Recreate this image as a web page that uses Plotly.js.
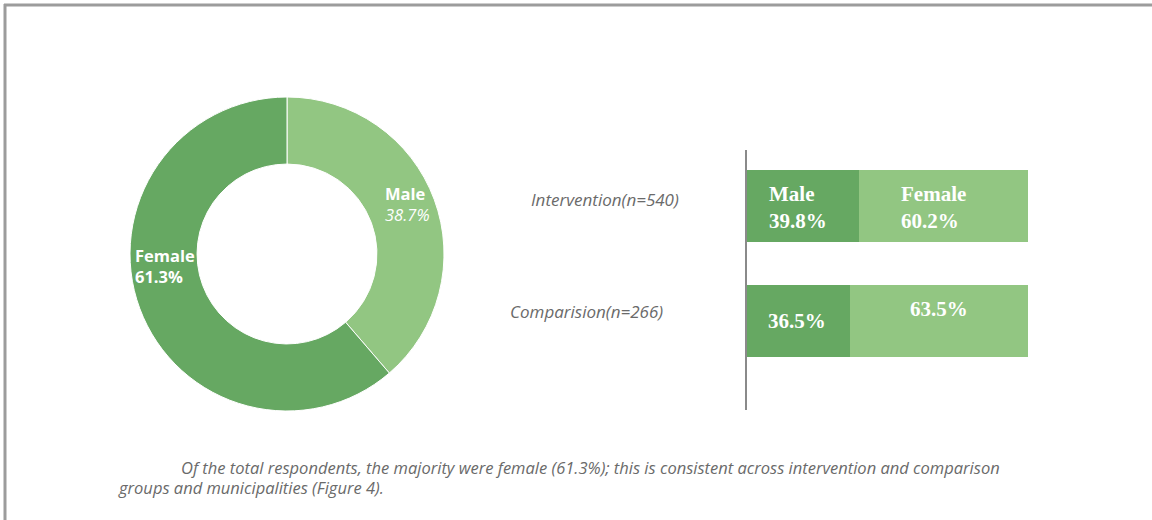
<!DOCTYPE html>
<html>
<head>
<meta charset="utf-8">
<script src="https://cdn.plot.ly/plotly-3.0.1.min.js"></script>
<style>html,body{margin:0;padding:0;background:#fff;}#chart{width:1152px;height:520px;}</style>
</head>
<body>
<div id="chart"></div>
<script>
// ---- data ----
const pieLabels = ["Male", "Female"];
const pieValues = [38.7, 61.3];

const groups = ["Intervention(n=540)", "Comparision(n=266)"];
const maleShare = [39.8, 36.5];
const femaleShare = [60.2, 63.5];

const captionLines = [
  "Of the total respondents, the majority were female (61.3%); this is consistent across intervention and comparison",
  "groups and municipalities (Figure 4)."
];

// ---- styles ----
const DARK = "#66a862";
const LIGHT = "#92c682";
const W = 1152, H = 520;
const px = v => v / W;
const py = v => 1 - v / H;

const traces = [
  {
    type: "pie",
    labels: pieLabels,
    values: pieValues,
    sort: false,
    direction: "clockwise",
    rotation: 0,
    hole: 0.573,
    textinfo: "none",
    hoverinfo: "label+percent",
    marker: { colors: [LIGHT, DARK], line: { color: "#ffffff", width: 1 } },
    domain: { x: [px(130), px(444)], y: [py(411), py(97)] },
    showlegend: false
  },
  {
    type: "bar",
    orientation: "h",
    y: groups,
    x: maleShare,
    name: "Male",
    marker: { color: DARK },
    width: 0.626,
    hoverinfo: "x+y",
    showlegend: false
  },
  {
    type: "bar",
    orientation: "h",
    y: groups,
    x: femaleShare,
    name: "Female",
    marker: { color: LIGHT },
    width: 0.626,
    hoverinfo: "x+y",
    showlegend: false
  }
];

const serif = { family: "Liberation Serif, DejaVu Serif, serif", size: 21, color: "#ffffff", weight: "bold" };
const sans = "Open Sans, Noto Sans, sans-serif";

const annotations = [
  // donut labels
  { xref: "paper", yref: "paper", x: px(383), y: py(204), xanchor: "left", yanchor: "middle", align: "left",
    showarrow: false, text: "<b>" + pieLabels[0] + "</b><br><i>" + pieValues[0].toFixed(1) + "%</i>",
    font: { family: sans, size: 16.5, color: "#ffffff" } },
  { xref: "paper", yref: "paper", x: px(133), y: py(266), xanchor: "left", yanchor: "middle", align: "left",
    showarrow: false, text: "<b>" + pieLabels[1] + "<br>" + pieValues[1].toFixed(1) + "%</b>",
    font: { family: sans, size: 16.5, color: "#ffffff" } },
  // group labels
  { xref: "paper", yref: "y", x: px(681), y: groups[0], xanchor: "right", yanchor: "middle", yshift: 7,
    showarrow: false, text: "<i>" + groups[0] + "</i>", font: { family: sans, size: 17, color: "#6a6a6a" } },
  { xref: "paper", yref: "y", x: px(665), y: groups[1], xanchor: "right", yanchor: "middle", yshift: 10,
    showarrow: false, text: "<i>" + groups[1] + "</i>", font: { family: sans, size: 17, color: "#6a6a6a" } },
  // bar labels
  { xref: "x", yref: "y", x: 0, y: groups[0], xanchor: "left", yanchor: "middle", xshift: 20, yshift: -1, align: "left",
    showarrow: false, text: "<b>Male<br>" + maleShare[0].toFixed(1) + "%</b>", font: serif },
  { xref: "x", yref: "y", x: maleShare[0], y: groups[0], xanchor: "left", yanchor: "middle", xshift: 40, yshift: -1, align: "left",
    showarrow: false, text: "<b>Female<br>" + femaleShare[0].toFixed(1) + "%</b>", font: serif },
  { xref: "x", yref: "y", x: 0, y: groups[1], xanchor: "left", yanchor: "middle", xshift: 19, yshift: 0, align: "left",
    showarrow: false, text: "<b>" + maleShare[1].toFixed(1) + "%</b>", font: serif },
  { xref: "x", yref: "y", x: maleShare[1] + femaleShare[1] / 2, y: groups[1], xanchor: "center", yanchor: "middle", yshift: 12,
    showarrow: false, text: "<b>" + femaleShare[1].toFixed(1) + "%</b>", font: serif },
  // caption
  { xref: "paper", yref: "paper", x: px(179), y: py(467), xanchor: "left", yanchor: "middle",
    showarrow: false, text: "<i>" + captionLines[0] + "</i>", font: { family: sans, size: 16.5, color: "#6a6a6a" } },
  { xref: "paper", yref: "paper", x: px(116), y: py(487), xanchor: "left", yanchor: "middle",
    showarrow: false, text: "<i>" + captionLines[1] + "</i>", font: { family: sans, size: 16.5, color: "#6a6a6a" } }
];

const layout = {
  width: W, height: H,
  margin: { l: 0, r: 0, t: 0, b: 0 },
  paper_bgcolor: "#ffffff",
  plot_bgcolor: "rgba(0,0,0,0)",
  barmode: "stack",
  showlegend: false,
  xaxis: {
    domain: [px(747), px(1028)], range: [0, 100],
    showgrid: false, zeroline: false, showline: false, showticklabels: false, ticks: "", fixedrange: true
  },
  yaxis: {
    domain: [py(410), py(150)], type: "category", categoryorder: "array", categoryarray: groups,
    range: [1.774, -0.487],
    showgrid: false, zeroline: false, showline: true, linecolor: "#8a8a8a", linewidth: 2,
    showticklabels: false, ticks: "", fixedrange: true
  },
  annotations: annotations,
  shapes: [
    { type: "line", xref: "paper", yref: "paper", x0: px(4), x1: 1, y0: py(5), y1: py(5),
      line: { color: "#9c9c9c", width: 3 } },
    { type: "line", xref: "paper", yref: "paper", x0: px(5), x1: px(5), y0: py(4), y1: 0,
      line: { color: "#9c9c9c", width: 3 } }
  ]
};

Plotly.newPlot("chart", traces, layout, { displayModeBar: false, staticPlot: true });
</script>
</body>
</html>
